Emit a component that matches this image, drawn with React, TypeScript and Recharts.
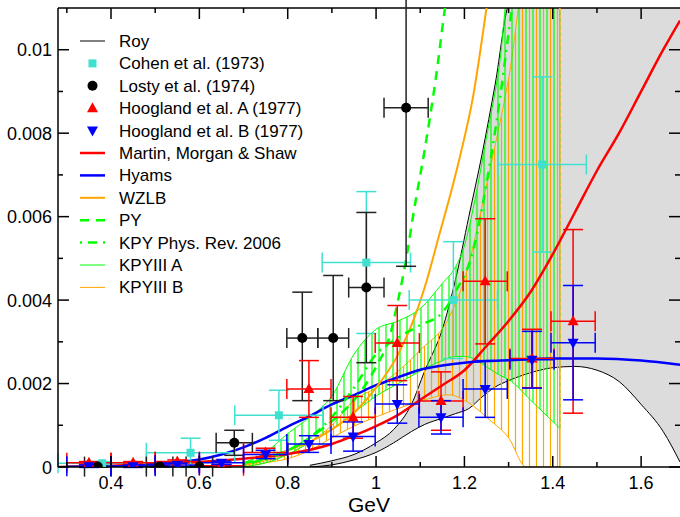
import React from 'react';
import { ComposedChart, Line, Area, Scatter, ErrorBar, XAxis, YAxis, ReferenceLine, Legend } from 'recharts';

// ---------------- data ----------------
const xTicks = [0.3, 0.4, 0.5, 0.6, 0.7, 0.8, 0.9, 1.0, 1.1, 1.2, 1.3, 1.4, 1.5, 1.6];
const yTicks = [0, 0.001, 0.002, 0.003, 0.004, 0.005, 0.006, 0.007, 0.008, 0.009, 0.01];

// Roy band
const royX = [0.85, 0.90, 0.95, 1.00, 1.04, 1.08, 1.11, 1.15, 1.18, 1.21, 1.24, 1.27, 1.30, 1.35, 1.40, 1.45, 1.50, 1.55, 1.60, 1.65, 1.688];
const royLow = [0.0, 0.00005, 0.00017, 0.00035, 0.00058, 0.00085, 0.00102, 0.00117, 0.00128, 0.0014, 0.00168, 0.00192, 0.00207, 0.00226, 0.00238, 0.00241, 0.00232, 0.00205, 0.0015, 0.00085, 0.00012];
const royHigh = [0.00004, 0.00015, 0.0003, 0.00058, 0.0009, 0.0015, 0.0023, 0.0033, 0.0045, 0.006, 0.0075, 0.0092, 0.0111, 0.0118, 0.0118, 0.0118, 0.0118, 0.0118, 0.0118, 0.0118, 0.0118];

// KPYIII A band (green)
const kaX = [0.70, 0.75, 0.80, 0.85, 0.90, 0.95, 1.00, 1.05, 1.10, 1.15, 1.18, 1.20, 1.22, 1.25, 1.28, 1.30, 1.35, 1.416];
const kaLow = [0, 0.0001, 0.0003, 0.0006, 0.0009, 0.0013, 0.0017, 0.002, 0.0023, 0.00255, 0.00265, 0.00265, 0.0026, 0.0024, 0.0022, 0.0021, 0.0016, 0.00093];
const kaHigh = [0.0001, 0.00035, 0.0008, 0.0012, 0.0017, 0.0027, 0.0033, 0.0035, 0.0038, 0.0044, 0.0048, 0.0053, 0.0062, 0.0079, 0.0097, 0.0115, 0.0118, 0.0118];

// KPYIII B band (orange)
const kbX = [0.70, 0.75, 0.80, 0.85, 0.90, 0.95, 1.00, 1.05, 1.10, 1.166, 1.20, 1.257, 1.30, 1.34, 1.38, 1.416];
const kbLow = [0, 0.0001, 0.0002, 0.0004, 0.0007, 0.00098, 0.0012, 0.0014, 0.00158, 0.00173, 0.0016, 0.00113, 0.0007, 0.0, 0, 0];
const kbHigh = [0.00003, 0.00015, 0.0003, 0.0006, 0.001, 0.0016, 0.0019, 0.0023, 0.0028, 0.0036, 0.0045, 0.0071, 0.0093, 0.0118, 0.0118, 0.0118];

// Curves
const mmsX = [0.28, 0.4, 0.5, 0.6, 0.7, 0.8, 0.9, 0.95, 1.0, 1.05, 1.1, 1.15, 1.2, 1.25, 1.3, 1.35, 1.4, 1.45, 1.5, 1.55, 1.6, 1.65, 1.688];
const mmsY = [0, 0.00003, 0.00007, 0.00012, 0.0002, 0.00031, 0.00055, 0.00075, 0.00098, 0.00125, 0.00161, 0.00196, 0.00232, 0.0029, 0.0035, 0.0042, 0.0051, 0.0061, 0.0071, 0.008, 0.009, 0.01, 0.0107];

const hyX = [0.34, 0.40, 0.45, 0.50, 0.55, 0.60, 0.65, 0.70, 0.75, 0.80, 0.85, 0.90, 0.95, 1.00, 1.05, 1.10, 1.15, 1.20, 1.25, 1.30, 1.40, 1.50, 1.60, 1.688];
const hyY = [0, 0.00001, 0.00003, 0.00007, 0.00012, 0.00018, 0.0003, 0.00047, 0.0007, 0.00097, 0.00122, 0.0015, 0.00172, 0.00196, 0.00215, 0.00233, 0.00243, 0.0025, 0.00254, 0.00256, 0.0026, 0.0026, 0.00255, 0.00245];

const wzX = [0.70, 0.75, 0.80, 0.85, 0.90, 0.95, 1.00, 1.05, 1.084, 1.11, 1.144, 1.17, 1.189, 1.22, 1.25, 1.27];
const wzY = [0.00005, 0.0002, 0.0004, 0.0006, 0.0009, 0.0013, 0.0019, 0.0027, 0.0035, 0.0043, 0.0056, 0.0066, 0.0074, 0.0089, 0.011, 0.0125];

const pyX = [0.70, 0.75, 0.80, 0.85, 0.90, 0.95, 1.00, 1.03, 1.05, 1.07, 1.085, 1.11, 1.135, 1.156, 1.17];
const pyY = [0.0001, 0.0002, 0.0004, 0.0007, 0.0011, 0.0016, 0.0024, 0.0031, 0.004, 0.0051, 0.0061, 0.0076, 0.0093, 0.011, 0.012];

const kpyX = [0.70, 0.75, 0.80, 0.85, 0.90, 0.95, 1.00, 1.05, 1.10, 1.15, 1.18, 1.22, 1.25, 1.28, 1.30, 1.32];
const kpyY = [0.00005, 0.0002, 0.0004, 0.0007, 0.0012, 0.0019, 0.0027, 0.0031, 0.0034, 0.0037, 0.0042, 0.0052, 0.0068, 0.0088, 0.0104, 0.012];

// Data points
const cohenX = [0.38, 0.58, 0.78, 0.978, 1.175, 1.376];
const cohenY = [0.00009, 0.00034, 0.00124, 0.0049, 0.004, 0.00725];
const cohenXErr = [0.1, 0.1, 0.1, 0.1, 0.1, 0.1];
const cohenYErr = [0.00004, 0.00035, 0.0006, 0.0017, 0.0014, 0.0021];

const lostyX = [0.37, 0.51, 0.60, 0.679, 0.833, 0.903, 0.978, 1.068];
const lostyY = [0.00001, 0.00001, 0.00001, 0.00058, 0.00309, 0.00309, 0.0043, 0.00861];
const lostyXErr = [0.03, 0.03, 0.03, 0.041, 0.035, 0.035, 0.04, 0.05];
const lostyYErrLo = [0.00001, 0.00001, 0.00001, 0.0003, 0.0015, 0.0015, 0.0018, 0.0038];
const lostyYErrHi = [0.00002, 0.00002, 0.00002, 0.0003, 0.0011, 0.0015, 0.0018, 0.0038];

const hoogX = [0.35, 0.45, 0.55, 0.65, 0.75, 0.848, 0.948, 1.048, 1.147, 1.247, 1.353, 1.446];
const hoogXErr = [0.05, 0.05, 0.05, 0.05, 0.05, 0.05, 0.05, 0.05, 0.05, 0.05, 0.05, 0.05];
const hoogAY = [0.0001, 0.0001, 0.00013, 0.00003, 0.00035, 0.00187, 0.00119, 0.00297, 0.00158, 0.00445, 0.0026, 0.00349];
const hoogAYErr = [0.00003, 0.00003, 0.00004, 0.00003, 0.0001, 0.00068, 0.0005, 0.0009, 0.0007, 0.0015, 0.0007, 0.0022];
const hoogBY = [0.00002, 0.00002, 0.00005, 0.0001, 0.0003, 0.00055, 0.00073, 0.00151, 0.00119, 0.00187, 0.00257, 0.00298];
const hoogBYErr = [0.00003, 0.00003, 0.00004, 0.00004, 0.0001, 0.0002, 0.00035, 0.00046, 0.0004, 0.00068, 0.00068, 0.00137];

// ---------------- builders ----------------
const line = (xs: number[], ys: number[]) => xs.map((x, i) => ({ x, y: ys[i] }));
const band = (xs: number[], lo: number[], hi: number[]) => xs.map((x, i) => ({ x, r: [lo[i], hi[i]] }));
const points = (xs: number[], ys: number[], ex: number[], eyLo: number[], eyHi: number[]) =>
  xs.map((x, i) => ({ x, y: ys[i], ex: ex[i], ey: [eyLo[i], eyHi[i]] }));
// closing edge of a band at its last x value
const bandEnd = (xs: number[], lo: number[], hi: number[]) => {
  const n = xs.length - 1;
  return [{ x: xs[n], y: lo[n] }, { x: xs[n], y: hi[n] }];
};

const royBand = band(royX, royLow, royHigh);
const kaBand = band(kaX, kaLow, kaHigh);
const kbBand = band(kbX, kbLow, kbHigh);
const cohenData = points(cohenX, cohenY, cohenXErr, cohenYErr, cohenYErr);
const lostyData = points(lostyX, lostyY, lostyXErr, lostyYErrLo, lostyYErrHi);
const hoogAData = points(hoogX, hoogAY, hoogXErr, hoogAYErr, hoogAYErr);
const hoogBData = points(hoogX, hoogBY, hoogXErr, hoogBYErr, hoogBYErr);

// ---------------- layout & style ----------------
const W = 680, H = 517;
const PLOT_LEFT = 58, PLOT_TOP = 8, PLOT_BOTTOM = 467, PLOT_RIGHT = 680;
const FONT = '"Liberation Sans", Arial, Helvetica, sans-serif';
const TURQ = '#40E0D0', GREEN = '#00FF00', ORANGE = '#FFA500', RED = '#FF0000', BLUE = '#0000FF';

function XTick(props: any) {
  const { x, payload } = props;
  const v = payload.value as number;
  const major = Math.round(v * 10) % 2 === 0;
  const len = major ? 11 : 5;
  return (
    <g>
      <line x1={x} x2={x} y1={PLOT_BOTTOM} y2={PLOT_BOTTOM - len} stroke="#000" strokeWidth={1.5} />
      <line x1={x} x2={x} y1={PLOT_TOP} y2={PLOT_TOP + len} stroke="#000" strokeWidth={1.5} />
      {major && (
        <text x={x} y={PLOT_BOTTOM + 22} textAnchor="middle" fontSize={18} fontFamily={FONT} fill="#000">
          {String(+v.toFixed(1))}
        </text>
      )}
    </g>
  );
}

function YTick(props: any) {
  const { y, payload } = props;
  const v = payload.value as number;
  const major = Math.round(v * 1000) % 2 === 0;
  const len = major ? 11 : 5;
  return (
    <g>
      <line x1={PLOT_LEFT} x2={PLOT_LEFT + len} y1={y} y2={y} stroke="#000" strokeWidth={1.5} />
      <line x1={PLOT_RIGHT - len} x2={PLOT_RIGHT} y1={y} y2={y} stroke="#000" strokeWidth={1.5} />
      {major && (
        <text x={PLOT_LEFT - 6} y={y + 6.5} textAnchor="end" fontSize={18} fontFamily={FONT} fill="#000">
          {String(+v.toFixed(3))}
        </text>
      )}
    </g>
  );
}

const Square = (p: any) => <rect x={p.cx - 4} y={p.cy - 4} width={8} height={8} fill={TURQ} />;
const Dot = (p: any) => <circle cx={p.cx} cy={p.cy} r={5} fill="#000" />;
const Up = (p: any) => (
  <path d={`M${p.cx},${p.cy - 6}L${p.cx + 5.5},${p.cy + 4}L${p.cx - 5.5},${p.cy + 4}Z`} fill={RED} />
);
const Down = (p: any) => (
  <path d={`M${p.cx},${p.cy + 6}L${p.cx + 5.5},${p.cy - 4}L${p.cx - 5.5},${p.cy - 4}Z`} fill={BLUE} />
);

type Row = { label: string; kind: string; color: string; w?: number; dash?: string };
const legendRows: Row[] = [
  { label: 'Roy', kind: 'line', color: '#000', w: 1 },
  { label: 'Cohen et al. (1973)', kind: 'square', color: TURQ },
  { label: 'Losty et al. (1974)', kind: 'circle', color: '#000' },
  { label: 'Hoogland et al. A (1977)', kind: 'up', color: RED },
  { label: 'Hoogland et al. B (1977)', kind: 'down', color: BLUE },
  { label: 'Martin, Morgan & Shaw', kind: 'line', color: RED, w: 2.5 },
  { label: 'Hyams', kind: 'line', color: BLUE, w: 2.5 },
  { label: 'WZLB', kind: 'line', color: ORANGE, w: 2 },
  { label: 'PY', kind: 'line', color: GREEN, w: 2.5, dash: '9 7' },
  { label: 'KPY Phys. Rev. 2006', kind: 'line', color: GREEN, w: 2.5, dash: '2 6 9 6' },
  { label: 'KPYIII A', kind: 'line', color: GREEN, w: 1 },
  { label: 'KPYIII B', kind: 'line', color: ORANGE, w: 1 },
];

function LegendBox() {
  const x0 = 80, x1 = 105, tx = 119, y0 = 41, dy = 22.4;
  return (
    <svg width={330} height={310} style={{ position: 'absolute', left: 0, top: 0, overflow: 'visible' }}>
      {legendRows.map((r, i) => {
        const y = y0 + i * dy;
        const cx = (x0 + x1) / 2;
        let sym: any = null;
        if (r.kind === 'line') sym = <line x1={x0} x2={x1} y1={y} y2={y} stroke={r.color} strokeWidth={r.w} strokeDasharray={r.dash} />;
        else if (r.kind === 'square') sym = <Square cx={cx} cy={y} />;
        else if (r.kind === 'circle') sym = <Dot cx={cx} cy={y} />;
        else if (r.kind === 'up') sym = <Up cx={cx} cy={y} />;
        else sym = <Down cx={cx} cy={y} />;
        return (
          <g key={r.label}>
            {sym}
            <text x={tx} y={y + 6} fontSize={17} fontFamily={FONT} fill="#000">{r.label}</text>
          </g>
        );
      })}
    </svg>
  );
}

export default function App() {
  return (
    <div style={{ position: 'absolute', left: 0, top: 0, width: W, height: H, background: '#fff', overflow: 'hidden' }}>
      <ComposedChart width={W} height={H} margin={{ top: PLOT_TOP, right: 0, bottom: 0, left: 0 }}>
        <defs>
          <pattern id="hatchA" patternUnits="userSpaceOnUse" x={0} y={0} width={7} height={10}>
            <line x1={1} x2={1} y1={0} y2={10} stroke={GREEN} strokeWidth={1.2} />
          </pattern>
          <pattern id="hatchB" patternUnits="userSpaceOnUse" x={0} y={0} width={7} height={10}>
            <line x1={4.5} x2={4.5} y1={0} y2={10} stroke={ORANGE} strokeWidth={1.2} />
          </pattern>
        </defs>
        <XAxis type="number" dataKey="x" domain={[0.28, 1.688]} allowDataOverflow ticks={xTicks} interval={0}
          tick={<XTick />} tickLine={false} tickSize={0} tickMargin={0} height={H - PLOT_BOTTOM}
          axisLine={{ stroke: '#000', strokeWidth: 1.5 }}
          label={{ content: () => (
            <text x={(PLOT_LEFT + PLOT_RIGHT) / 2} y={PLOT_BOTTOM + 45} textAnchor="middle" fontSize={21} fontFamily={FONT} fill="#000">GeV</text>
          ) }} />
        <YAxis type="number" dataKey="y" domain={[0, 0.011]} allowDataOverflow ticks={yTicks} interval={0}
          tick={<YTick />} tickLine={false} tickSize={0} tickMargin={0} width={PLOT_LEFT}
          axisLine={{ stroke: '#000', strokeWidth: 1.5 }} />
        <ReferenceLine y={0.011} stroke="#000" strokeWidth={1.5} />

        <Area data={royBand} dataKey="r" type="monotone" fill="#DCDCDC" fillOpacity={1} stroke="#000" strokeWidth={1} isAnimationActive={false} />
        <Area data={kbBand} dataKey="r" type="monotone" fill="url(#hatchB)" fillOpacity={1} stroke={ORANGE} strokeWidth={1} isAnimationActive={false} />
        <Area data={kaBand} dataKey="r" type="monotone" fill="url(#hatchA)" fillOpacity={1} stroke={GREEN} strokeWidth={1} isAnimationActive={false} />
        <Line data={bandEnd(kbX, kbLow, kbHigh)} dataKey="y" type="linear" stroke={ORANGE} strokeWidth={1.5} dot={false} isAnimationActive={false} />
        <Line data={bandEnd(kaX, kaLow, kaHigh)} dataKey="y" type="linear" stroke="#9ACD32" strokeWidth={1.5} strokeDasharray="4 3" dot={false} isAnimationActive={false} />

        <Line data={line(mmsX, mmsY)} dataKey="y" type="monotone" stroke={RED} strokeWidth={2.5} dot={false} isAnimationActive={false} />
        <Line data={line(hyX, hyY)} dataKey="y" type="monotone" stroke={BLUE} strokeWidth={2.5} dot={false} isAnimationActive={false} />
        <Line data={line(wzX, wzY)} dataKey="y" type="monotone" stroke={ORANGE} strokeWidth={2} dot={false} isAnimationActive={false} />
        <Line data={line(pyX, pyY)} dataKey="y" type="monotone" stroke={GREEN} strokeWidth={2.5} strokeDasharray="9 7" dot={false} isAnimationActive={false} />
        <Line data={line(kpyX, kpyY)} dataKey="y" type="monotone" stroke={GREEN} strokeWidth={2.5} strokeDasharray="2 6 9 6" dot={false} isAnimationActive={false} />

        <Scatter data={cohenData} dataKey="y" shape={Square} isAnimationActive={false}>
          <ErrorBar dataKey="ex" direction="x" width={10} stroke={TURQ} strokeWidth={1.5} />
          <ErrorBar dataKey="ey" direction="y" width={10} stroke={TURQ} strokeWidth={1.5} />
        </Scatter>
        <Scatter data={lostyData} dataKey="y" shape={Dot} isAnimationActive={false}>
          <ErrorBar dataKey="ex" direction="x" width={10} stroke="#222" strokeWidth={1.5} />
          <ErrorBar dataKey="ey" direction="y" width={10} stroke="#222" strokeWidth={1.5} />
        </Scatter>
        <Scatter data={hoogAData} dataKey="y" shape={Up} isAnimationActive={false}>
          <ErrorBar dataKey="ex" direction="x" width={10} stroke={RED} strokeWidth={1.5} />
          <ErrorBar dataKey="ey" direction="y" width={10} stroke={RED} strokeWidth={1.5} />
        </Scatter>
        <Scatter data={hoogBData} dataKey="y" shape={Down} isAnimationActive={false}>
          <ErrorBar dataKey="ex" direction="x" width={10} stroke={BLUE} strokeWidth={1.5} />
          <ErrorBar dataKey="ey" direction="y" width={10} stroke={BLUE} strokeWidth={1.5} />
        </Scatter>

        <Legend layout="vertical" align="center" verticalAlign="middle"
          wrapperStyle={{ position: 'absolute', left: 0, top: 0, width: 330, height: 310 }}
          content={() => <LegendBox />} />
      </ComposedChart>
    </div>
  );
}
